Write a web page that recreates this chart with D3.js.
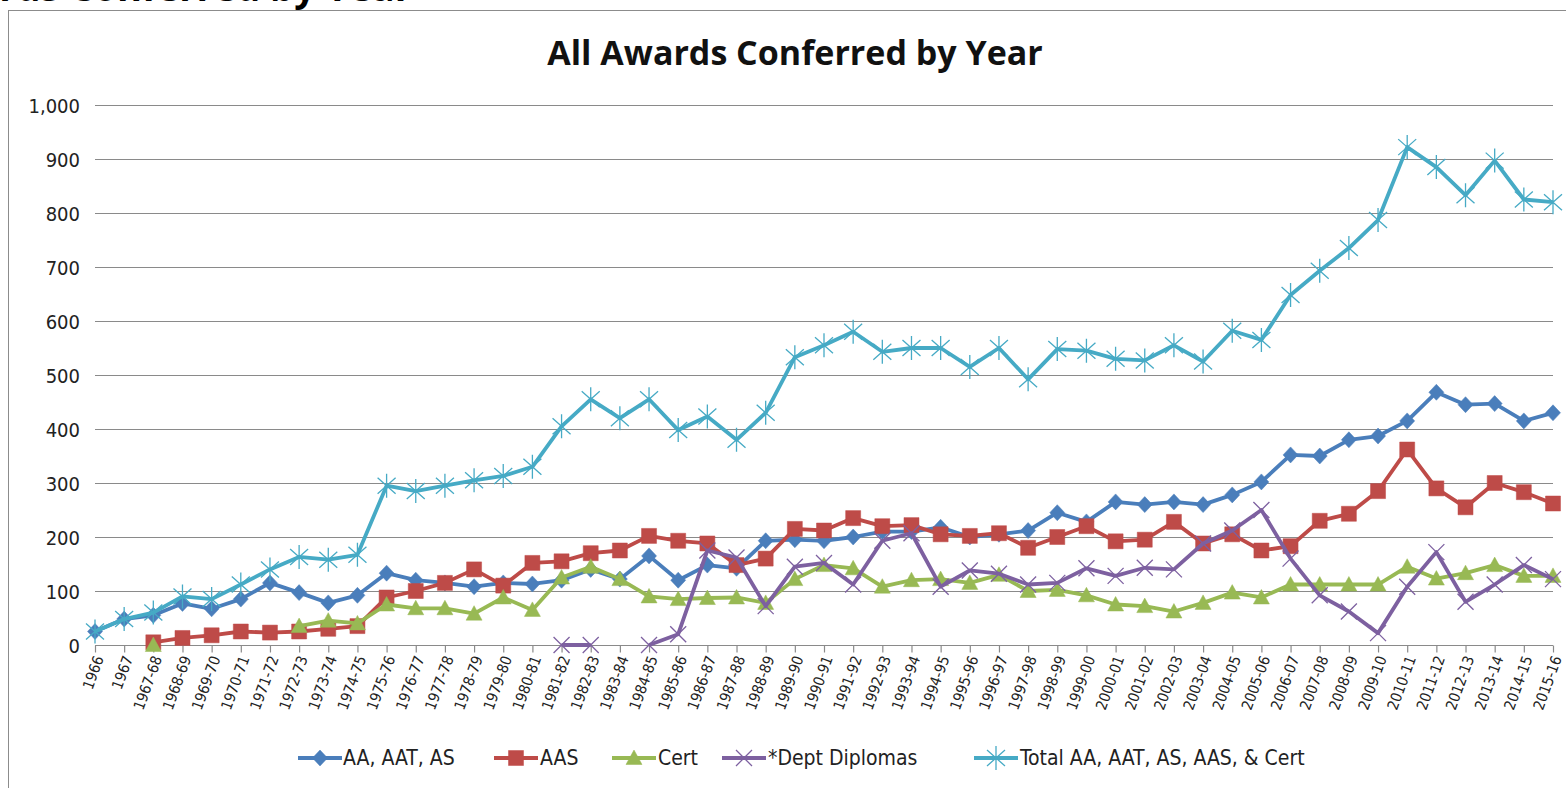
<!DOCTYPE html>
<html>
<head>
<meta charset="utf-8">
<script src="https://cdn.jsdelivr.net/npm/d3@7"></script>
<style>
  body { margin: 0; background: #fff; }
  #graf { width: 1566px; height: 788px; overflow: hidden; }
  .eje text { font-family: 'Liberation Sans Narrow', 'DejaVu Sans Condensed', sans-serif; fill: #222; }
  .leyenda text { font-family: 'Liberation Sans Narrow', 'DejaVu Sans Condensed', sans-serif; font-size: 21px; fill: #222; }
</style>
</head>
<body>
<div id="graf"></div>
<script>
// I. Datos
anios = ['1966', '1967', '1967-68', '1968-69', '1969-70', '1970-71', '1971-72', '1972-73', '1973-74', '1974-75',
  '1975-76', '1976-77', '1977-78', '1978-79', '1979-80', '1980-81', '1981-82', '1982-83', '1983-84', '1984-85',
  '1985-86', '1986-87', '1987-88', '1988-89', '1989-90', '1990-91', '1991-92', '1992-93', '1993-94', '1994-95',
  '1995-96', '1996-97', '1997-98', '1998-99', '1999-00', '2000-01', '2001-02', '2002-03', '2003-04', '2004-05',
  '2005-06', '2006-07', '2007-08', '2008-09', '2009-10', '2010-11', '2011-12', '2012-13', '2013-14', '2014-15', '2015-16']

aa = [25, 48, 55, 77, 67, 85, 115, 97, 78, 92,
  133, 120, 115, 108, 115, 113, 120, 140, 122, 165,
  120, 148, 142, 193, 195, 193, 200, 210, 210, 218,
  200, 205, 212, 245, 228, 265, 260, 265, 260, 278,
  302, 352, 350, 380, 387, 415, 468, 445, 447, 415, 430]

aas = [null, null, 5, 13, 18, 25, 23, 25, 30, 35,
  88, 100, 115, 140, 110, 152, 155, 170, 175, 202,
  193, 188, 148, 160, 215, 212, 235, 220, 222, 205,
  202, 207, 180, 200, 220, 192, 195, 228, 188, 205,
  175, 183, 230, 243, 285, 362, 290, 255, 300, 283, 262]

cert = [null, null, 0, null, null, null, null, 35, 45, 40,
  75, 68, 68, 58, 88, 65, 125, 145, 122, 90,
  85, 87, 88, 78, 122, 148, 142, 108, 120, 122,
  115, 130, 100, 102, 92, 75, 72, 62, 78, 97,
  88, 112, 112, 112, 112, 145, 123, 133, 148, 128, 128]

dept = [null, null, null, null, null, null, null, null, null, null,
  null, null, null, null, null, null, 0, 0, null, 0,
  20, 175, 162, 72, 145, 152, 112, 193, 207, 108,
  138, 132, 112, 115, 142, 128, 143, 140, 188, 212,
  250, 160, 92, 62, 22, 108, 172, 80, 112, 148, 122]

total = [25, 48, 60, 90, 85, 112, 140, 163, 158, 167,
  295, 285, 295, 305, 313, 330, 405, 455, 420, 455,
  398, 423, 380, 430, 533, 555, 580, 543, 550, 550,
  515, 550, 492, 548, 545, 530, 527, 555, 525, 582,
  565, 648, 693, 735, 787, 922, 885, 833, 897, 825, 820]

yTicks = [0, 100, 200, 300, 400, 500, 600, 700, 800, 900, 1000]

series = [
  { nombre: 'AA, AAT, AS', valores: aa, color: '#4A7EBB', marca: 'diamante' },
  { nombre: 'AAS', valores: aas, color: '#BE4B48', marca: 'cuadro' },
  { nombre: 'Cert', valores: cert, color: '#98B954', marca: 'triangulo' },
  { nombre: '*Dept Diplomas', valores: dept, color: '#7D60A0', marca: 'equis' },
  { nombre: 'Total AA, AAT, AS, AAS, & Cert', valores: total, color: '#46AAC5', marca: 'estrella' }
]

// II. Configuración
ancho_total = 1566
alto_total = 788

svg = d3.select('#graf').append('svg')
  .attr('width', ancho_total)
  .attr('height', alto_total)

// marco del área del gráfico
svg.append('rect')
  .attr('x', 8.5).attr('y', 10.5)
  .attr('width', 1600).attr('height', 800)
  .attr('fill', '#fff')
  .attr('stroke', '#8c8c8c')
  .attr('stroke-width', 1)

// título cortado de arriba (en la imagen original solo se ve su parte baja)
svg.append('text')
  .attr('x', 412).attr('y', 1)
  .attr('text-anchor', 'end')
  .style('font-family', "'Open Sans', sans-serif")
  .style('font-weight', 'bold')
  .style('font-size', '38px')
  .text('All Awards Conferred by Year')

svg.append('text')
  .attr('x', 795).attr('y', 65)
  .attr('text-anchor', 'middle')
  .style('font-family', "'Open Sans', sans-serif")
  .style('font-weight', 'bold')
  .style('font-size', '34px')
  .style('fill', '#111')
  .text('All Awards Conferred by Year')

x = d3.scalePoint()
  .domain(anios)
  .range([95, 1553])

y = d3.scaleLinear()
  .domain([0, 1000])
  .range([645, 105])

// rejilla
svg.append('g')
  .selectAll('line')
  .data(yTicks.filter(d => d > 0))
  .enter().append('line')
    .attr('x1', 95).attr('x2', 1553)
    .attr('y1', d => y(d) + 0.5).attr('y2', d => y(d) + 0.5)
    .attr('stroke', '#8a8a8a')
    .attr('stroke-width', 1.2)

// eje y (solo etiquetas)
yAxisGroup = svg.append('g')
  .attr('class', 'eje')
  .attr('transform', 'translate(95, 0)')
  .call(d3.axisLeft(y).tickValues(yTicks).tickSize(0).tickPadding(15).tickFormat(d3.format(',')))
yAxisGroup.select('.domain').remove()
yAxisGroup.selectAll('text').style('font-size', '20px').attr('dy', '0.35em')

// eje x
xAxisGroup = svg.append('g')
  .attr('class', 'eje')
  .attr('transform', 'translate(0, 645.5)')
  .call(d3.axisBottom(x).tickSize(7).tickSizeOuter(0))
xAxisGroup.select('.domain').attr('stroke', '#8a8a8a').attr('stroke-width', 1.2)
  .attr('d', 'M95,0H1553')
xAxisGroup.selectAll('.tick line').attr('stroke', '#8a8a8a').attr('stroke-width', 1.2)
xAxisGroup.selectAll('text')
  .style('font-size', '15px')
  .attr('x', -9)
  .attr('y', 7)
  .attr('dy', '0.35em')
  .attr('text-anchor', 'end')
  .attr('transform', 'rotate(-70)')

// marcadores
function marcador(tipo) {
  if (tipo === 'diamante') return 'M0,-8L7.5,0L0,8L-7.5,0Z'
  if (tipo === 'cuadro') return 'M-7.5,-7.5H7.5V7.5H-7.5Z'
  if (tipo === 'triangulo') return 'M0,-8L8,6.5H-8Z'
  if (tipo === 'equis') return 'M-8,-8L8,8M8,-8L-8,8'
  return 'M-9,-8L9,8M9,-8L-9,8M0,-12V12'
}

linea = d3.line()
  .defined(d => d != null)
  .x((d, i) => x(anios[i]))
  .y(d => y(d))

series.forEach(s => {
  g = svg.append('g')
  g.append('path')
    .attr('d', linea(s.valores))
    .attr('fill', 'none')
    .attr('stroke', s.color)
    .attr('stroke-width', 3.8)
    .attr('stroke-linejoin', 'round')

  relleno = s.marca === 'equis' || s.marca === 'estrella'
  g.selectAll('path.m')
    .data(s.valores.map((v, i) => ({ v: v, i: i })).filter(d => d.v != null))
    .enter().append('path')
      .attr('class', 'm')
      .attr('transform', d => `translate(${x(anios[d.i])}, ${y(d.v)})`)
      .attr('d', marcador(s.marca))
      .attr('fill', relleno ? 'none' : s.color)
      .attr('stroke', s.color)
      .attr('stroke-width', relleno ? 1.3 : 0.5)
})

// leyenda
leyenda = [
  { x: 298, tx: 343 },
  { x: 494, tx: 540 },
  { x: 612, tx: 658 },
  { x: 722, tx: 768 },
  { x: 974, tx: 1020 }
]

ley = svg.append('g').attr('class', 'leyenda')
series.forEach((s, i) => {
  p = leyenda[i]
  ley.append('line')
    .attr('x1', p.x).attr('x2', p.x + 44)
    .attr('y1', 758).attr('y2', 758)
    .attr('stroke', s.color)
    .attr('stroke-width', 3.8)
  relleno = s.marca === 'equis' || s.marca === 'estrella'
  ley.append('path')
    .attr('transform', `translate(${p.x + 22}, 758)`)
    .attr('d', marcador(s.marca))
    .attr('fill', relleno ? 'none' : s.color)
    .attr('stroke', s.color)
    .attr('stroke-width', relleno ? 1.3 : 0.5)
  ley.append('text')
    .attr('x', p.tx).attr('y', 758)
    .attr('dy', '0.35em')
    .text(s.nombre)
})
</script>
</body>
</html>
